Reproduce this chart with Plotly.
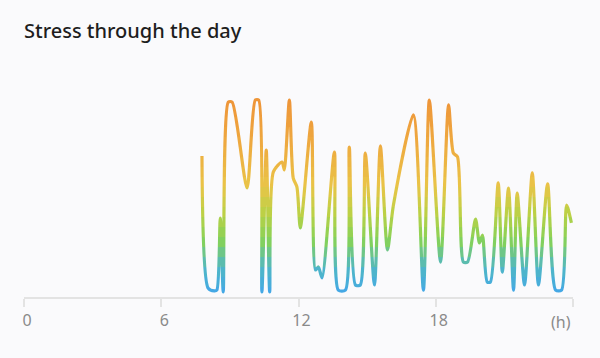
import plotly.graph_objects as go

# ---- data ----
hours = [7.78, 8.05, 8.32, 8.43, 8.58, 8.71, 8.93, 9.10, 9.75, 10.11, 10.26, 10.40, 10.59,
         10.74, 10.90, 11.28, 11.38, 11.60, 11.77, 11.93, 12.08, 12.56, 12.74, 12.87, 13.03,
         13.57, 13.74, 14.05, 14.22, 14.49, 14.70, 14.92, 15.32, 15.58, 15.89, 16.15, 17.02,
         17.46, 17.72, 18.21, 18.56, 18.77, 18.95, 19.21, 19.39, 19.74, 19.91, 20.04, 20.25,
         20.39, 20.73, 20.91, 21.18, 21.40, 21.56, 21.88, 22.22, 22.49, 22.89, 23.24, 23.50,
         23.72, 23.93]
stress = [69.5, 4.4, 3.0, 3.4, 38.9, 2.5, 96, 96, 53.7, 97, 97, 2.5, 72.4,
          2.5, 61.6, 66.5, 62.6, 97, 58.6, 54.2, 34, 86.2, 13.3, 14.8, 9.4,
          71.4, 3.4, 3.4, 73.9, 5.9, 5.9, 70.9, 5.9, 74.4, 23.2, 45.3, 89.7,
          3.4, 97, 17.2, 94.6, 70.9, 69, 17.2, 17.2, 38.4, 26.6, 30.5, 7.4,
          7.4, 56.2, 12.3, 53.7, 3.4, 51.2, 5.9, 61.1, 5.9, 55.7, 3.4, 3.4,
          45.3, 36.5]
avg_stress = 54.2
grid_max = 100
tick_vals = [0, 6, 12, 18, 24]
tick_text = ["0", "6", "12", "18", ""]
unit_label = "(h)"
title_text = "Stress through the day"

# ---- gradient (value -> colour) ----
stops = [(0, (66, 165, 235)), (14, (78, 182, 200)), (28, (132, 210, 88)),
         (42, (190, 208, 70)), (55, (234, 196, 72)), (75, (238, 170, 64)),
         (100, (238, 146, 56))]


def grad(v):
    for (v0, c0), (v1, c1) in zip(stops[:-1], stops[1:]):
        if v <= v1:
            t = (v - v0) / (v1 - v0)
            return "rgb(%d,%d,%d)" % tuple(round(a + (b - a) * t) for a, b in zip(c0, c1))
    return "rgb(%d,%d,%d)" % stops[-1][1]


# plot area: 210 px tall, bottom at value 0, grid line (100) 203 px above it
N = 21
YTOP = grid_max * 210 / 203
fig = go.Figure()
layout_axes = {}
for k in range(N):
    lo = YTOP * k / N
    hi = YTOP * (k + 1) / N
    name = "y%d" % (k + 2)
    fig.add_trace(go.Scatter(
        x=hours, y=stress, mode="lines", xaxis="x", yaxis=name,
        line=dict(color=grad((lo + hi) / 2), width=3.2, shape="spline", smoothing=0.7,
                  simplify=False),
        hoverinfo="skip", showlegend=False))
    layout_axes["yaxis%d" % (k + 2)] = dict(domain=[k / N, (k + 1) / N], range=[lo, hi],
                                           visible=False, fixedrange=True, anchor="x")

fig.update_layout(**layout_axes)
fig.update_layout(
    width=600, height=358,
    margin=dict(l=24, r=27, t=87, b=61),
    paper_bgcolor="#fafafc", plot_bgcolor="#fafafc",
    title=dict(text=title_text, xref="container", x=0.04, xanchor="left",
               y=1 - 31 / 358, yanchor="middle",
               font=dict(family="Noto Sans", size=20, color="#1e1e1e", weight=500)),
    xaxis=dict(range=[0, 24], tickvals=tick_vals, ticktext=tick_text, showgrid=False,
               zeroline=False, showline=True, linecolor="#e3e3e3", linewidth=1.5,
               ticks="outside", ticklen=8, tickcolor="#e3e3e3", tickwidth=1.5,
               ticklabelshift=3,
               tickfont=dict(family="Noto Sans", size=16, color="#8a8a8a"),
               anchor="y", fixedrange=True),
    yaxis=dict(domain=[0, 1], range=[0, YTOP], visible=False, fixedrange=True),
    shapes=[
        dict(type="line", xref="x", yref="y", x0=0, x1=24, y0=grid_max, y1=grid_max,
             line=dict(color="#ebebeb", width=1.5), layer="below"),
        dict(type="line", xref="x", yref="y", x0=0, x1=24, y0=avg_stress, y1=avg_stress,
             line=dict(color="#f2b640", width=1.5, dash="2px,4px"), layer="below"),
    ],
    annotations=[dict(text=unit_label, x=24, xref="x", xanchor="right",
                      y=-25 / 210, yref="paper", yanchor="middle", showarrow=False,
                      font=dict(family="Noto Sans", size=16, color="#8a8a8a"))],
)

fig.write_html("out.html")
